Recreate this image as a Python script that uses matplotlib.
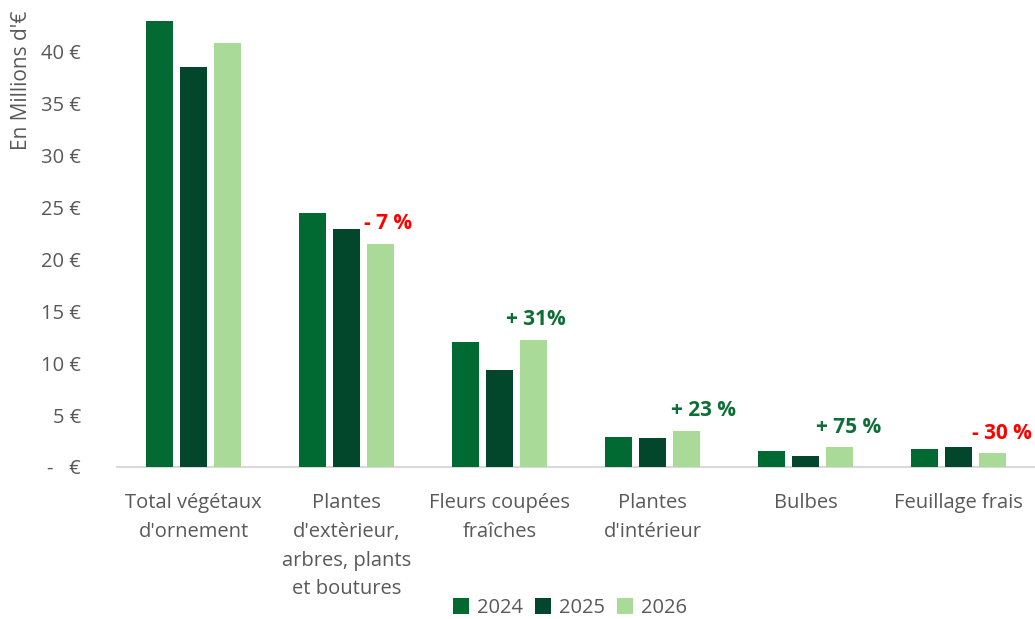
import matplotlib
matplotlib.use("Agg")
import matplotlib.pyplot as plt
import numpy as np

plt.rcParams['font.family'] = ['Open Sans', 'DejaVu Sans']

categories = ["Total végétaux\nd'ornement",
              "Plantes\nd'extèrieur,\narbres, plants\net boutures",
              "Fleurs coupées\nfraîches",
              "Plantes\nd'intérieur",
              "Bulbes",
              "Feuillage frais"]
years = ["2024", "2025", "2026"]
v2024 = [43.0, 24.5, 12.0, 2.9, 1.55, 1.7]
v2025 = [38.5, 22.9, 9.35, 2.8, 1.05, 1.9]
v2026 = [40.8, 21.5, 12.25, 3.45, 1.9, 1.32]
ann_labels = [None, "- 7 %", "+ 31%", "+ 23 %", "+ 75 %", "- 30 %"]
ann_colors = [None, "#FF0000", "#0E6E36", "#0E6E36", "#0E6E36", "#FF0000"]
yticks = [0, 5, 10, 15, 20, 25, 30, 35, 40]
ytick_labels = ["-   €", "5 €", "10 €", "15 €", "20 €", "25 €", "30 €", "35 €", "40 €"]

colors = ["#006A32", "#02472C", "#A9DA97"]
text_gray = "#595959"
ann_dx = [0, 0, -4, 7, 1, 1]  # horizontal nudges (points)

fig = plt.figure(figsize=(10.35, 6.19), dpi=100)
ax = fig.add_axes([117/1035, 1 - 467/619, 1 - 117/1035, 463/619])

x = np.arange(len(categories))
w = 0.176
step = 0.222
for i, (vals, c, lab) in enumerate(zip([v2024, v2025, v2026], colors, years)):
    ax.bar(x + (i - 1) * step, vals, width=w, color=c, label=lab, zorder=3)

for xi, lab, col, top, dx in zip(x, ann_labels, ann_colors, v2026, ann_dx):
    if lab:
        ax.annotate(lab, xy=(xi + step + 0.05, top), xytext=(dx, 7),
                    textcoords="offset points", ha="center", va="bottom",
                    fontsize=15, fontweight="bold", color=col)

ax.set_xlim(-0.5, len(categories) - 0.5)
ax.set_ylim(0, 44.6)
ax.set_yticks(yticks)
ax.set_yticklabels(ytick_labels)
ax.set_xticks(x)
ax.set_xticklabels(categories, linespacing=1.58, va="top")
ax.tick_params(axis="y", length=0, pad=26, labelsize=14.5, labelcolor=text_gray)
ax.tick_params(axis="x", length=0, pad=19, labelsize=14.5, labelcolor=text_gray)
for s in ["top", "right", "left"]:
    ax.spines[s].set_visible(False)
ax.spines["bottom"].set_color("#D9D9D9")
ax.spines["bottom"].set_linewidth(1.5)

fig.text(22/1035, 1 - 80/619, "En Millions d'€", rotation=90, ha="center", va="center",
         fontsize=15, color=text_gray)

leg = fig.legend(loc="center", bbox_to_anchor=(570/1035, 1 - 608/619), ncol=3,
                 frameon=False, fontsize=14.5, handlelength=0.8, handleheight=0.8,
                 handletextpad=0.4, columnspacing=0.6)
for t in leg.get_texts():
    t.set_color(text_gray)

fig.savefig("out.png", dpi=100)
